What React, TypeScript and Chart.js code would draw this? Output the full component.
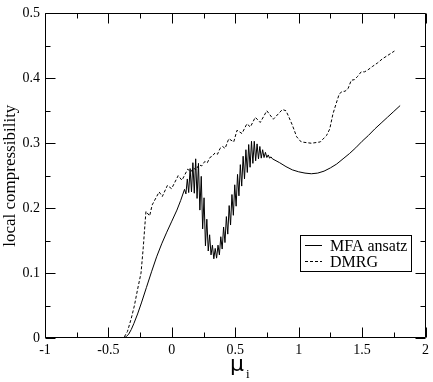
import React, { useEffect, useRef } from "react";
import { Chart, registerables } from "chart.js";

Chart.register(...registerables);

const xTicks = [-1, -0.5, 0, 0.5, 1, 1.5, 2];
const yTicks = [0, 0.1, 0.2, 0.3, 0.4, 0.5];
const xTickLabels = ["-1", "-0.5", "0", "0.5", "1", "1.5", "2"];
const yTickLabels = ["0", "0.1", "0.2", "0.3", "0.4", "0.5"];
const seriesNames = ["MFA ansatz", "DMRG"];
const yTitle = "local compressibility";

const mfaX = [
  -1, -0.5, -0.4, -0.38, -0.36, -0.34, -0.32, -0.3, -0.27, -0.24, -0.2, -0.16, -0.12, -0.08, -0.04, 0.0, 0.04, 0.07,
  0.1, 0.111, 0.122, 0.133, 0.144, 0.155, 0.166, 0.177, 0.188, 0.199, 0.21, 0.221, 0.232, 0.243, 0.254, 0.265,
  0.276, 0.287, 0.298, 0.309, 0.32, 0.331, 0.342, 0.353, 0.364, 0.375, 0.386, 0.397, 0.408, 0.419, 0.43, 0.441,
  0.452, 0.463, 0.474, 0.485, 0.496, 0.507, 0.518, 0.529, 0.54, 0.551, 0.562, 0.573, 0.584, 0.595, 0.606, 0.617,
  0.628, 0.639, 0.65, 0.661, 0.672, 0.683, 0.694, 0.705, 0.716, 0.727, 0.738, 0.749, 0.76, 0.771, 0.782, 0.793,
  0.85, 0.9, 0.95, 1.0, 1.05, 1.1, 1.15, 1.2, 1.25, 1.3, 1.35, 1.4, 1.45, 1.5, 1.55, 1.6, 1.65, 1.7, 1.75, 1.8,
];
const mfaY = [
  0, 0, 0, 0, 0.002, 0.006, 0.013, 0.022, 0.037, 0.054, 0.078, 0.102, 0.125, 0.145, 0.163, 0.18, 0.197, 0.212,
  0.229, 0.222, 0.245, 0.224, 0.261, 0.225, 0.27, 0.223, 0.276, 0.215, 0.269, 0.197, 0.249, 0.168, 0.216, 0.142,
  0.183, 0.134, 0.159, 0.128, 0.143, 0.122, 0.138, 0.123, 0.143, 0.128, 0.156, 0.137, 0.171, 0.147, 0.187, 0.16,
  0.204, 0.174, 0.221, 0.189, 0.236, 0.203, 0.252, 0.219, 0.267, 0.234, 0.28, 0.245, 0.29, 0.255, 0.298, 0.263,
  0.303, 0.269, 0.303, 0.273, 0.299, 0.276, 0.295, 0.277, 0.29, 0.278, 0.286, 0.278, 0.282, 0.277, 0.279, 0.276,
  0.27, 0.264, 0.259, 0.256, 0.254, 0.253, 0.254, 0.257, 0.262, 0.268, 0.276, 0.284, 0.293, 0.303, 0.312, 0.322,
  0.331, 0.34, 0.349, 0.358,
];

const dmrgX = [
  -1, -0.5, -0.38, -0.35, -0.32, -0.295, -0.27, -0.243, -0.225, -0.212, -0.204, -0.175, -0.155, -0.1, -0.075,
  -0.035, -0.002, 0.05, 0.08, 0.125, 0.15, 0.17, 0.19, 0.214, 0.235, 0.26, 0.28, 0.3, 0.318, 0.34, 0.36, 0.38,
  0.4, 0.42, 0.449, 0.488, 0.514, 0.553, 0.592, 0.619, 0.658, 0.697, 0.749, 0.8, 0.872, 0.9, 0.919, 0.95, 0.984,
  1.02, 1.1, 1.17, 1.22, 1.245, 1.27, 1.297, 1.32, 1.345, 1.365, 1.389, 1.415, 1.44, 1.465, 1.493, 1.52, 1.546,
  1.58, 1.624, 1.66, 1.7, 1.755,
];
const dmrgY = [
  0, 0, 0, 0.01, 0.03, 0.05, 0.075, 0.1, 0.14, 0.175, 0.195, 0.188, 0.205, 0.225, 0.218,
  0.235, 0.23, 0.25, 0.243, 0.26, 0.256, 0.262, 0.259, 0.267, 0.265, 0.272, 0.27, 0.278, 0.28, 0.285, 0.283, 0.292,
  0.295, 0.292, 0.307, 0.302, 0.32, 0.315, 0.33, 0.325, 0.34, 0.332, 0.35, 0.337, 0.352, 0.35, 0.342, 0.328, 0.31,
  0.302, 0.3, 0.302, 0.312, 0.322, 0.345, 0.362, 0.376, 0.38, 0.38, 0.384, 0.397, 0.398, 0.403, 0.41, 0.41, 0.413,
  0.418, 0.424, 0.43, 0.435, 0.442,
];

const SERIF = "'Liberation Serif', 'Times New Roman', serif";

const framePlugin = {
  id: "framePlugin",
  afterDraw(chart: any) {
    const { ctx, chartArea, scales } = chart;
    const { left, right, top, bottom } = chartArea;
    const xs = scales.x;
    const ys = scales.y;
    ctx.save();
    ctx.strokeStyle = "#000";
    ctx.lineWidth = 1;
    const L = Math.round(left) + 0.5;
    const R = Math.round(right) - 0.5;
    const T = Math.round(top) + 0.5;
    const B = Math.round(bottom) - 0.5;
    ctx.beginPath();
    ctx.rect(L, T, R - L, B - T);
    ctx.stroke();
    const major = 10;
    const minor = 5;
    ctx.beginPath();
    for (let i = 0; i < xTicks.length; i++) {
      const v = xTicks[i];
      const p = Math.round(xs.getPixelForValue(v)) + 0.5;
      ctx.moveTo(p, B); ctx.lineTo(p, B - major);
      ctx.moveTo(p, T); ctx.lineTo(p, T + major);
      if (i < xTicks.length - 1) {
        const pm = Math.round(xs.getPixelForValue((v + xTicks[i + 1]) / 2)) + 0.5;
        ctx.moveTo(pm, B); ctx.lineTo(pm, B - minor);
        ctx.moveTo(pm, T); ctx.lineTo(pm, T + minor);
      }
    }
    for (let i = 0; i < yTicks.length; i++) {
      const v = yTicks[i];
      const p = Math.round(ys.getPixelForValue(v)) + 0.5;
      ctx.moveTo(L, p); ctx.lineTo(L + major, p);
      ctx.moveTo(R, p); ctx.lineTo(R - major, p);
      if (i < yTicks.length - 1) {
        const pm = Math.round(ys.getPixelForValue((v + yTicks[i + 1]) / 2)) + 0.5;
        ctx.moveTo(L, pm); ctx.lineTo(L + minor, pm);
        ctx.moveTo(R, pm); ctx.lineTo(R - minor, pm);
      }
    }
    ctx.stroke();

    // legend
    const bx = 300.5, by = 235.5, bw = 111, bh = 36;
    ctx.fillStyle = "#fff";
    ctx.fillRect(bx, by, bw, bh);
    ctx.strokeRect(bx, by, bw, bh);
    ctx.fillStyle = "#000";
    ctx.font = `16px ${SERIF}`;
    ctx.textBaseline = "middle";
    ctx.textAlign = "left";
    const rows = [245.5, 261.5];
    chart.data.datasets.forEach((ds: any, i: number) => {
      ctx.save();
      ctx.setLineDash(ds.borderDash || []);
      ctx.beginPath();
      ctx.moveTo(305, rows[i]);
      ctx.lineTo(322, rows[i]);
      ctx.stroke();
      ctx.restore();
      ctx.fillText(ds.label, 330, rows[i] + 1);
    });

    // y title
    ctx.save();
    ctx.translate(11, (top + bottom) / 2);
    ctx.rotate(-Math.PI / 2);
    ctx.textAlign = "center";
    ctx.textBaseline = "middle";
    ctx.font = `17px ${SERIF}`;
    ctx.fillText(yTitle, 0, 0);
    ctx.restore();

    // x title mu_i
    ctx.textAlign = "left";
    ctx.textBaseline = "alphabetic";
    ctx.font = `22px 'DejaVu Sans', sans-serif`;
    ctx.fillText("\u03bc", 230, 371);
    ctx.font = `13px ${SERIF}`;
    ctx.fillText("i", 246, 378);
    ctx.restore();
  },
};

export default function App() {
  const ref = useRef<HTMLCanvasElement | null>(null);
  useEffect(() => {
    if (!ref.current) return;
    const chart = new Chart(ref.current, {
      type: "line",
      data: {
        datasets: [
          {
            label: seriesNames[0],
            data: mfaX.map((x, i) => ({ x, y: mfaY[i] })),
            borderColor: "#000",
            borderWidth: 1,
            pointRadius: 0,
            tension: 0,
            fill: false,
          },
          {
            label: seriesNames[1],
            data: dmrgX.map((x, i) => ({ x, y: dmrgY[i] })),
            borderColor: "#000",
            borderWidth: 1,
            borderDash: [3, 2],
            pointRadius: 0,
            tension: 0,
            fill: false,
          },
        ],
      },
      options: {
        animation: false,
        responsive: true,
        maintainAspectRatio: false,
        layout: { padding: { top: 5, right: 5, left: 0, bottom: 0 } },
        plugins: { legend: { display: false }, tooltip: { enabled: false } },
        scales: {
          x: {
            type: "linear",
            min: -1,
            max: 2,
            grid: { display: false, drawTicks: false },
            border: { display: false },
            afterFit: (s: any) => { s.height = 44; },
            afterBuildTicks: (s: any) => { s.ticks = xTicks.map((v) => ({ value: v })); },
            ticks: {
              color: "#000",
              padding: 4,
              maxRotation: 0,
              autoSkip: false,
              font: { family: SERIF, size: 14 },
              callback: (v: any) => xTickLabels[xTicks.indexOf(Number(v))] ?? "",
            },
          },
          y: {
            type: "linear",
            min: 0,
            max: 0.5,
            grid: { display: false, drawTicks: false },
            border: { display: false },
            afterFit: (s: any) => { s.width = 45; },
            afterBuildTicks: (s: any) => { s.ticks = yTicks.map((v) => ({ value: v })); },
            ticks: {
              color: "#000",
              padding: 5,
              autoSkip: false,
              font: { family: SERIF, size: 14 },
              callback: (v: any) => {
                const idx = yTicks.findIndex((t) => Math.abs(t - Number(v)) < 1e-9);
                return idx >= 0 ? yTickLabels[idx] : "";
              },
            },
          },
        },
      },
      plugins: [framePlugin],
    });
    return () => chart.destroy();
  }, []);
  return (
    <div style={{ position: "fixed", left: 0, top: 0, width: 433, height: 382, background: "#fff" }}>
      <canvas ref={ref} />
    </div>
  );
}
